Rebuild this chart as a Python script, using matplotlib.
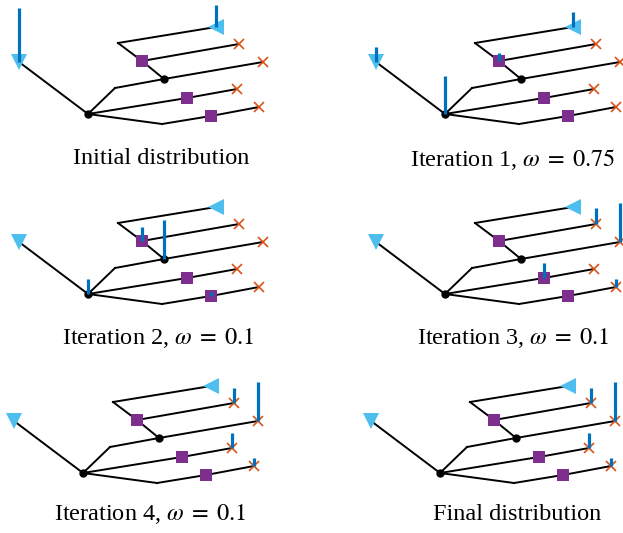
import matplotlib.pyplot as plt

plt.rcParams['font.family'] = ['Liberation Serif', 'DejaVu Serif']
plt.rcParams['mathtext.fontset'] = 'stix'

# node layout of the tree (pixels, panel-local)
pos = {
    'T1': (19, 62), 'R': (88, 114), 'A': (115, 88), 'D': (164, 79),
    'X2': (263, 62), 'S1': (142, 61), 'C1': (118, 43), 'T2': (216, 27),
    'X1': (239, 44), 'S2': (187, 98), 'X3': (237, 89), 'B': (162, 124),
    'S3': (211, 116), 'X4': (259, 107),
}
edges = [('T1', 'R'), ('R', 'A'), ('A', 'D'), ('D', 'X2'), ('D', 'S1'),
         ('S1', 'C1'), ('C1', 'T2'), ('S1', 'X1'), ('R', 'S2'), ('S2', 'X3'),
         ('R', 'B'), ('B', 'S3'), ('S3', 'X4')]

# node kinds
sources = ['T1']
sources_left = ['T2']
crosses = ['X1', 'X2', 'X3', 'X4']
squares = ['S1', 'S2', 'S3']
dots = ['R', 'D']

# mass at each node, per panel
captions = ['Initial distribution', r'Iteration 1, $\omega\;=\;0.75$',
            r'Iteration 2, $\omega\;=\;0.1$', r'Iteration 3, $\omega\;=\;0.1$',
            r'Iteration 4, $\omega\;=\;0.1$', 'Final distribution']
mass = [
    {'T1': 0.71, 'T2': 0.29},
    {'T1': 0.20, 'R': 0.50, 'S1': 0.10, 'T2': 0.20},
    {'R': 0.20, 'S1': 0.19, 'D': 0.51, 'S3': 0.05},
    {'X1': 0.21, 'X2': 0.51, 'S2': 0.20, 'X4': 0.10},
    {'X1': 0.20, 'X2': 0.51, 'X3': 0.20, 'X4': 0.10},
    {'X1': 0.20, 'X2': 0.51, 'X3': 0.20, 'X4': 0.10},
]

# panel placement
offsets = [(0, 0), (357, 0), (0, 180), (357, 180), (-5, 359), (352, 359)]
cap_pos = [(161, 159), (513, 159), (158, 338), (513, 338), (150, 514), (517, 514)]
scale = 76  # pixels per unit mass

fig = plt.figure(figsize=(6.23, 5.33), dpi=100)
ax = fig.add_axes([0, 0, 1, 1])
ax.set_xlim(0, 623)
ax.set_ylim(533, 0)
ax.axis('off')

for k in range(6):
    ox, oy = offsets[k]
    P = {n: (x + ox, y + oy) for n, (x, y) in pos.items()}
    for a, b in edges:
        ax.plot([P[a][0], P[b][0]], [P[a][1], P[b][1]], color='k', lw=1.4, zorder=1)
    for n in sources:
        ax.plot(*P[n], marker='v', ms=12, color='#4DBEEE', mew=0, zorder=2)
    for n in sources_left:
        ax.plot(*P[n], marker='<', ms=12, color='#4DBEEE', mew=0, zorder=2)
    for n in squares:
        ax.plot(*P[n], marker='s', ms=8, color='#7E2F8E', mew=0, zorder=2)
    for n in crosses:
        ax.plot(*P[n], marker='x', ms=7, color='#D95319', mew=1.2, zorder=2)
    for n in dots:
        ax.plot(*P[n], marker='o', ms=5, color='k', zorder=2)
    for n, m in mass[k].items():
        x, y = P[n]
        ax.plot([x, x], [y, y - m * scale], color='#0072BD', lw=2.3,
                solid_capstyle='butt', zorder=3)
    cx, cy = cap_pos[k]
    ax.text(cx, cy, captions[k], ha='center', va='center', fontsize=17.5)

fig.savefig('out.png', dpi=100)
